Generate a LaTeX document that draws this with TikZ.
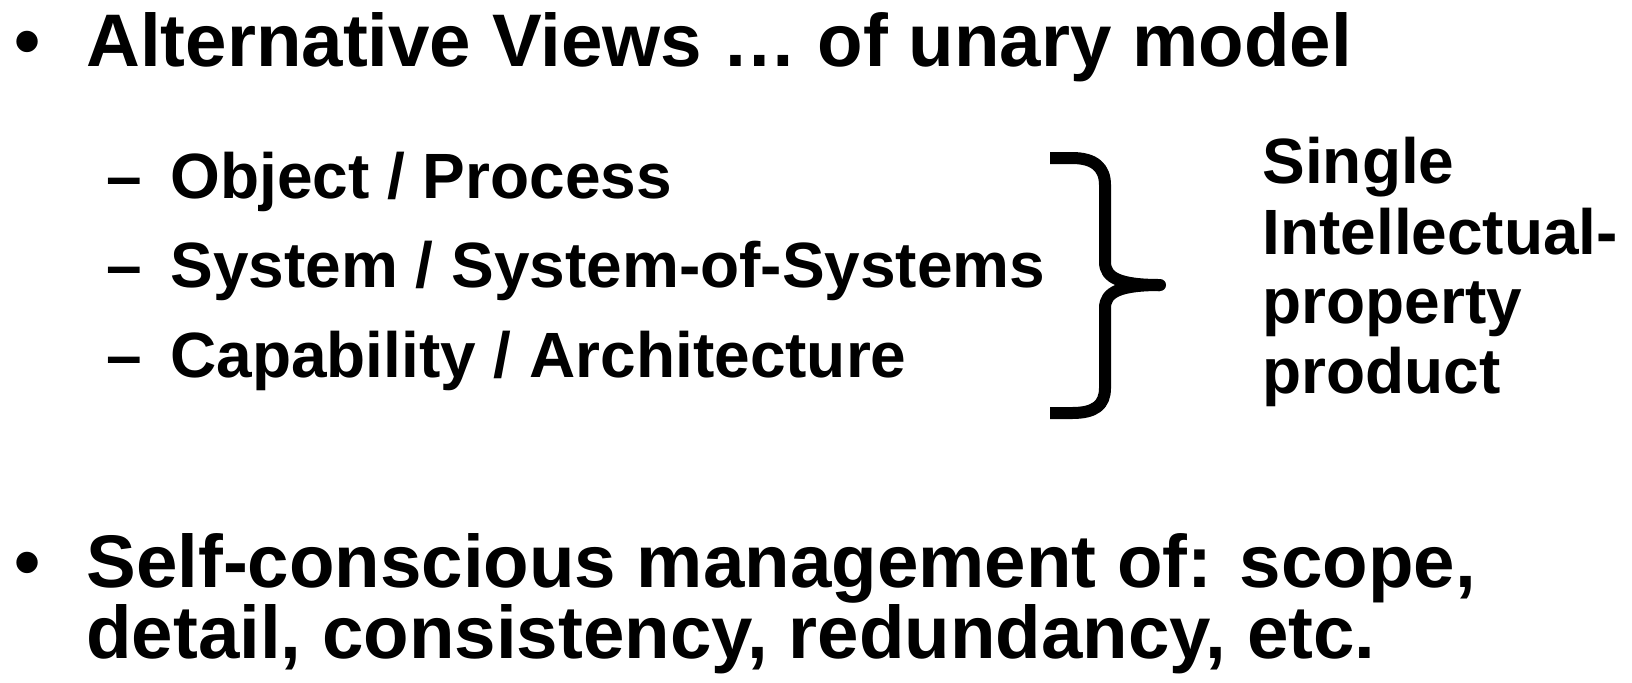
\documentclass[tikz,border=0pt]{standalone}
\usepackage{fontspec}
\setmainfont{Liberation Sans}
\tikzset{
  main/.style={inner sep=0pt, anchor=base west, font=\fontsize{37.25pt}{40pt}\selectfont\bfseries},
  sub/.style={inner sep=0pt, anchor=base west, font=\fontsize{32pt}{35pt}\selectfont\bfseries},
  side/.style={inner sep=0pt, anchor=base west, font=\fontsize{32pt}{35pt}\selectfont\bfseries},
  bracepath/.style={line width=6pt, line cap=butt, line join=round}
}
\begin{document}
\begin{tikzpicture}[x=0.5pt, y=-0.5pt]
\useasboundingbox (0,0) rectangle (1632,682);
% first bullet
\node[main] (b1) at (14,66) {•};
\node[main] (t1) at (86,66) {Alternative Views … of unary model};
% sub items
\node[sub] (d1) at (106,198) {–};
\node[sub] (s1) at (170,198) {Object / Process};
\node[sub] (d2) at (106,287) {–};
\node[sub] (s2) at (170,287) {System / System-of-Systems};
\node[sub] (d3) at (106,377) {–};
\node[sub] (s3) at (170,377) {Capability / Architecture};
% brace
\coordinate (bt) at (1050,158);
\coordinate (tip) at (1160,285);
\coordinate (bb) at (1050,413);
\draw[bracepath] (bt) -- (1072,158) .. controls (1095,158) and (1105,168) .. (1105,185)
  -- (1105,262) .. controls (1105,278) and (1120,285) .. (tip);
\draw[bracepath] (tip) .. controls (1120,285) and (1105,292) .. (1105,308)
  -- (1105,388) .. controls (1105,405) and (1095,413) .. (1072,413) -- (bb);
\fill (tip) circle (6);
% side label
\node[side] (r1) at (1262,183) {Single};
\node[side] (r2) at (1262,254) {Intellectual-};
\node[side] (r3) at (1262,323) {property};
\node[side] (r4) at (1262,393) {product};
% second bullet
\node[main] (b2) at (14,587) {•};
\node[main] (t2) at (86,587) {Self-conscious management of: scope,};
\node[main] (t3) at (86,658) {detail, consistency, redundancy, etc.};
\end{tikzpicture}
\end{document}
